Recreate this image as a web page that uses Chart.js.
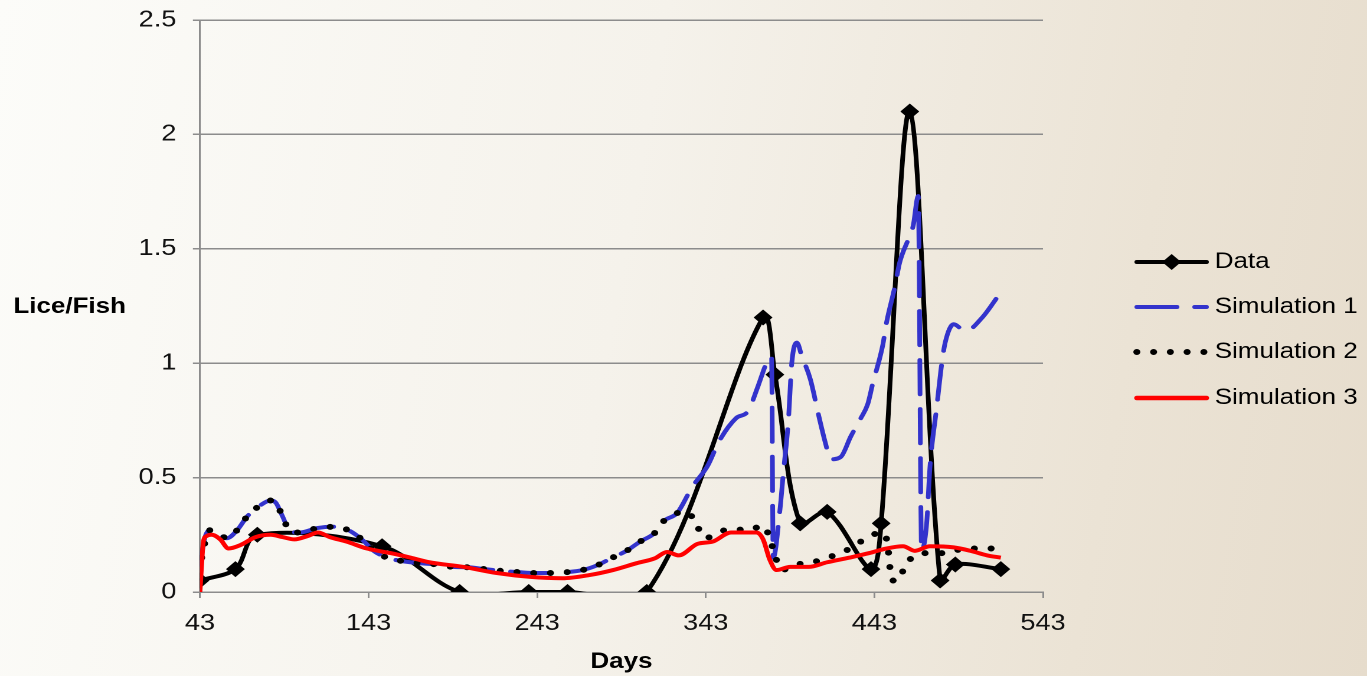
<!DOCTYPE html>
<html>
<head>
<meta charset="utf-8">
<script src="https://cdn.jsdelivr.net/npm/chart.js@4.4.1/dist/chart.umd.min.js"></script>
<style>
  html, body { margin: 0; padding: 0; }
  body {
    width: 1367px; height: 676px; overflow: hidden;
    background: linear-gradient(100deg, #fcfcf9 0%, #f5f2eb 45%, #ebe3d5 80%, #e6dccc 100%);
  }
  #wrap { width: 1367px; height: 676px; overflow: hidden; }
  #chart { transform: scaleX(1.1805); transform-origin: 0 0; }
</style>
</head>
<body>
<div id="wrap"><canvas id="chart" width="1158" height="676"></canvas></div>
<script>
// ── Lice per fish: field data vs three simulations ──

const xTicks = [43, 143, 243, 343, 443, 543];
const yTicks = [0, 0.5, 1, 1.5, 2, 2.5];

// observed counts (diamonds)
const dataDays   = [43, 64, 77, 151, 197, 238, 261, 308, 377, 384, 399, 415, 441, 447, 464, 482, 491, 518];
const dataValues = [0.05, 0.10, 0.25, 0.20, 0, 0, 0, 0, 1.20, 0.95, 0.30, 0.35, 0.10, 0.30, 2.10, 0.05, 0.12, 0.10];

// shared early part of simulations 1 and 2
const simEarly = [
  [49,0.27],[53,0.26],[59,0.235],[65,0.27],[71,0.33],[78,0.375],[85,0.40],[88,0.39],[92,0.33],[96,0.27],
  [102,0.26],[113,0.28],[122,0.285],[131,0.27],[139,0.23],[146,0.18],[154,0.15],[163,0.135],[175,0.125],
  [184,0.12],[193,0.11],[202,0.108],[212,0.10],[222,0.092],[232,0.087],[241,0.083],[251,0.083],[261,0.087],
  [270,0.096],[279,0.118],[287,0.148],[296,0.18],[304,0.22],[313,0.26],[318,0.31],[326,0.345]
];

const sim1Points = [[43,0.12],[46,0.24]].concat(simEarly, [
  [335,0.46],[344,0.55],[351,0.66],[361,0.76],[368,0.79],[374,0.90],[379,1.0],[382,1.03],[383,0.15],
  [387,0.36],[389,0.52],[392,0.75],[394,1.0],[397,1.09],[400,1.03],[405,0.93],[410,0.77],[414,0.65],
  [417,0.58],[423,0.59],[429,0.68],[435,0.76],[439,0.82],[442,0.91],[448,1.08],[450,1.17],[455,1.33],
  [458,1.44],[463,1.54],[466,1.60],[469,1.73],[471,0.18],[474,0.30],[476,0.55],[480,0.81],[483,1.0],
  [485,1.09],[490,1.17],[497,1.14],[507,1.20],[517,1.30]
]);

const sim2Points = [[44,0.15],[46,0.22]].concat(simEarly, [
  [332,0.35],[338,0.285],[343,0.235],[350,0.26],[359,0.275],[368,0.27],[377,0.29],[381,0.235],[384,0.16],
  [388,0.096],[396,0.12],[405,0.127],[414,0.148],[423,0.17],[432,0.205],[439,0.24],[448,0.26],[451,0.20],
  [452,0.12],[454,0.05],[457,0.05],[461,0.11],[467,0.16],[476,0.17],[486,0.17],[496,0.19],[505,0.19],
  [515,0.19],[518,0.18]
]);

const sim3Points = [
  [43,0],[44,0.12],[45,0.22],[47,0.245],[50,0.25],[55,0.23],[60,0.19],[67,0.205],[76,0.24],[85,0.25],
  [92,0.24],[99,0.23],[107,0.245],[113,0.26],[120,0.24],[130,0.22],[142,0.19],[156,0.17],[168,0.15],
  [179,0.13],[199,0.11],[219,0.083],[239,0.066],[258,0.06],[274,0.074],[288,0.096],[302,0.126],
  [313,0.148],[320,0.175],[327,0.16],[338,0.21],[347,0.22],[358,0.26],[367,0.26],[373,0.26],[377,0.23],
  [381,0.14],[385,0.096],[393,0.11],[404,0.11],[415,0.13],[428,0.15],[440,0.17],[450,0.19],[460,0.20],
  [467,0.18],[476,0.20],[490,0.195],[500,0.18],[510,0.16],[518,0.15]
];

const seriesNames = ['Data', 'Simulation 1', 'Simulation 2', 'Simulation 3'];

const toXY = pts => pts.map(p => ({ x: p[0], y: p[1] }));

// legend + horizontal y title drawn on canvas
const sideText = {
  id: 'sideText',
  afterDraw(chart) {
    const ctx = chart.ctx;
    ctx.save();
    ctx.font = 'bold 22px "Liberation Sans", Arial, sans-serif';
    ctx.fillStyle = '#000';
    ctx.textBaseline = 'middle';
    ctx.textAlign = 'center';
    ctx.fillText('Lice/Fish', 59, 307);

    const x0 = 963, x1 = 1022, rows = [262, 307, 352, 398];
    ctx.font = '22px "Liberation Sans", Arial, sans-serif';
    ctx.textAlign = 'left';
    rows.forEach((y, i) => {
      ctx.save();
      ctx.beginPath();
      if (i === 0) { ctx.strokeStyle = '#000'; ctx.lineWidth = 4; ctx.lineCap = 'round'; }
      if (i === 1) { ctx.strokeStyle = '#3333cc'; ctx.lineWidth = 4; ctx.lineCap = 'round'; ctx.setLineDash([34, 15]); }
      if (i === 2) { ctx.strokeStyle = '#000'; ctx.lineWidth = 6; ctx.lineCap = 'round'; ctx.setLineDash([0, 14.2]); }
      if (i === 3) { ctx.strokeStyle = '#ff0000'; ctx.lineWidth = 4.5; ctx.lineCap = 'round'; }
      ctx.moveTo(x0, y); ctx.lineTo(x1, y); ctx.stroke();
      if (i === 0) {
        const cx = (x0 + x1) / 2;
        ctx.setLineDash([]);
        ctx.fillStyle = '#000';
        ctx.beginPath();
        ctx.moveTo(cx, y - 8); ctx.lineTo(cx + 8, y); ctx.lineTo(cx, y + 8); ctx.lineTo(cx - 8, y);
        ctx.closePath(); ctx.fill();
      }
      ctx.restore();
      ctx.fillStyle = '#000';
      ctx.fillText(seriesNames[i], 1029, y);
    });
    ctx.restore();
  }
};

const tickFont = { family: '"Liberation Sans", Arial, sans-serif', size: 23 };

new Chart(document.getElementById('chart').getContext('2d'), {
  type: 'line',
  data: {
    datasets: [
      {
        label: seriesNames[0], order: 4,
        data: dataDays.map((d, i) => ({ x: d, y: dataValues[i] })),
        borderColor: '#000', borderWidth: 4, tension: 0.33,
        pointStyle: 'rectRot', pointRadius: 8, pointBackgroundColor: '#000', pointBorderColor: '#000', pointBorderWidth: 0
      },
      {
        label: seriesNames[1], order: 3, data: toXY(sim1Points),
        borderColor: '#3333cc', borderWidth: 4, borderDash: [34, 15], borderCapStyle: 'round',
        cubicInterpolationMode: 'monotone', pointRadius: 0
      },
      {
        label: seriesNames[2], order: 2, data: toXY(sim2Points),
        borderColor: '#000', borderWidth: 6, borderDash: [0, 14.2], borderCapStyle: 'round',
        cubicInterpolationMode: 'monotone', pointRadius: 0
      },
      {
        label: seriesNames[3], order: 1, data: toXY(sim3Points),
        borderColor: '#ff0000', borderWidth: 4, cubicInterpolationMode: 'monotone', pointRadius: 0
      }
    ]
  },
  options: {
    responsive: false, animation: false, devicePixelRatio: 2,
    layout: { padding: { left: 0, right: 274.5, top: 20, bottom: 0 } },
    elements: { line: { capBezierPoints: false } },
    plugins: { legend: { display: false }, tooltip: { enabled: false } },
    scales: {
      x: {
        type: 'linear', min: 43, max: 543,
        afterBuildTicks: s => { s.ticks = xTicks.map(v => ({ value: v })); },
        afterFit: s => { s.height = 84; s.paddingLeft = 0; s.paddingRight = 0; },
        grid: { drawOnChartArea: false, color: '#8c8c8c', lineWidth: 1.5, tickLength: 6 },
        border: { color: '#8c8c8c', width: 1.5 },
        ticks: { font: tickFont, color: '#111', padding: 12, maxRotation: 0 },
        title: { display: true, text: 'Days', color: '#000', padding: { top: 0, bottom: 1 },
                 font: { family: '"Liberation Sans", Arial, sans-serif', size: 22, weight: 'bold' } }
      },
      y: {
        min: 0, max: 2.5,
        afterBuildTicks: s => { s.ticks = yTicks.map(v => ({ value: v })); },
        afterFit: s => { s.width = 169.4; s.paddingTop = 0; s.paddingBottom = 0; },
        grid: { color: '#8c8c8c', lineWidth: 1.5, tickLength: 6 },
        border: { color: '#8c8c8c', width: 1.5 },
        ticks: { font: tickFont, color: '#111', padding: 14, callback: v => String(v) }
      }
    }
  },
  plugins: [sideText]
});
</script>
</body>
</html>
